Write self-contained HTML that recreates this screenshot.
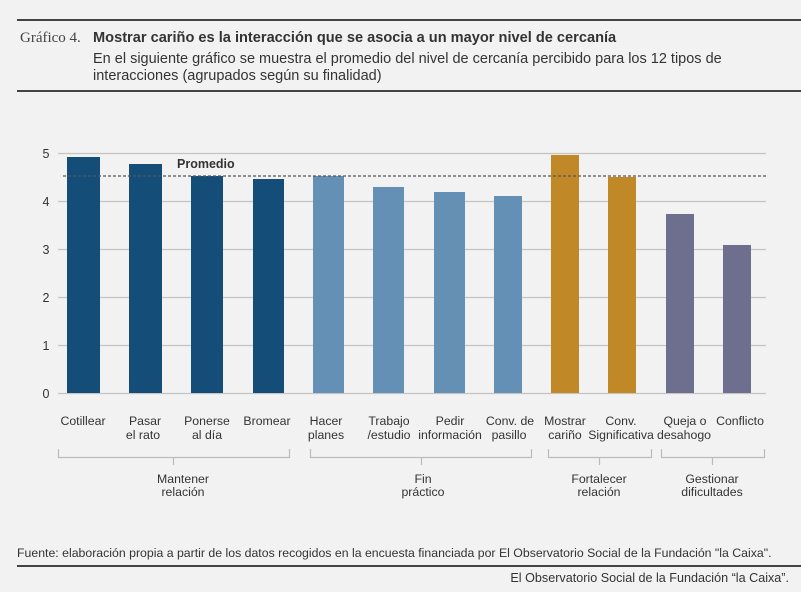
<!DOCTYPE html>
<html><head><meta charset="utf-8"><style>
body{margin:0;background:#f2f2f2;}
svg{display:block;font-family:"Liberation Sans",sans-serif;}
</style></head><body>
<svg width="801" height="592" viewBox="0 0 801 592" xmlns="http://www.w3.org/2000/svg">
<rect width="801" height="592" fill="#f2f2f2"/>
<rect x="17" y="19" width="784" height="2" fill="#444"/>
<text x="20" y="42" font-family="Liberation Serif,serif" font-size="15" fill="#444">Gráfico 4.</text>
<text x="93" y="42" font-size="14.6" font-weight="bold" fill="#333">Mostrar cariño es la interacción que se asocia a un mayor nivel de cercanía</text>
<text x="93" y="63" font-size="14.5" fill="#333">En el siguiente gráfico se muestra el promedio del nivel de cercanía percibido para los 12 tipos de</text>
<text x="93" y="80" font-size="14.5" fill="#333">interacciones (agrupados según su finalidad)</text>
<rect x="17" y="90" width="784" height="2" fill="#444"/>
<g stroke="#c4c4c4" stroke-width="1.2">
<line x1="58" y1="153.5" x2="766" y2="153.5"/><line x1="58" y1="201.5" x2="766" y2="201.5"/>
<line x1="58" y1="249.5" x2="766" y2="249.5"/><line x1="58" y1="297.5" x2="766" y2="297.5"/>
<line x1="58" y1="345.5" x2="766" y2="345.5"/><line x1="58" y1="393.5" x2="766" y2="393.5"/>
</g>
<g font-size="12.5" fill="#333" text-anchor="middle">
<text x="46" y="158">5</text><text x="46" y="206">4</text><text x="46" y="254">3</text>
<text x="46" y="302">2</text><text x="46" y="350">1</text><text x="46" y="398">0</text>
</g>
<g fill="#144e78">
<rect x="67" y="157" width="33" height="236"/><rect x="129" y="164" width="33" height="229"/>
<rect x="191" y="176" width="32" height="217"/><rect x="253" y="179" width="31" height="214"/>
</g>
<g fill="#6490b6">
<rect x="313" y="176" width="31" height="217"/><rect x="373" y="187" width="31" height="206"/>
<rect x="434" y="192" width="31" height="201"/><rect x="494" y="196" width="28" height="197"/>
</g>
<g fill="#c08826"><rect x="551" y="155" width="28" height="238"/><rect x="608" y="177" width="28" height="216"/></g>
<g fill="#6e6e8e"><rect x="666" y="214" width="28" height="179"/><rect x="723" y="245" width="28" height="148"/></g>
<line x1="63" y1="176" x2="768" y2="176" stroke="#555" stroke-width="1.3" stroke-dasharray="3,2"/>
<text x="177" y="168" font-size="12.5" font-weight="bold" fill="#333">Promedio</text>
<g font-size="12.3" fill="#333" text-anchor="middle">
<text x="83" y="425">Cotillear</text>
<text x="145" y="425">Pasar</text><text x="143" y="439">el rato</text>
<text x="207" y="425">Ponerse</text><text x="207" y="439">al día</text>
<text x="267" y="425">Bromear</text>
<text x="326" y="425">Hacer</text><text x="326" y="439">planes</text>
<text x="389" y="425">Trabajo</text><text x="389" y="439">/estudio</text>
<text x="450" y="425">Pedir</text><text x="450" y="439">información</text>
<text x="510" y="425">Conv. de</text><text x="509" y="439">pasillo</text>
<text x="565" y="425">Mostrar</text><text x="565" y="439">cariño</text>
<text x="621" y="425">Conv.</text><text x="621" y="439">Significativa</text>
<text x="685" y="425">Queja o</text><text x="684" y="439">desahogo</text>
<text x="740" y="425">Conflicto</text>
<text x="183" y="483">Mantener</text><text x="183" y="496">relación</text>
<text x="423" y="483">Fin</text><text x="423" y="496">práctico</text>
<text x="599" y="483">Fortalecer</text><text x="599" y="496">relación</text>
<text x="712" y="483">Gestionar</text><text x="712" y="496">dificultades</text>
</g>
<g stroke="#bbb" stroke-width="1.2" fill="none">
<path d="M58.5 449V457.5H289.5V449M173.5 457.5V465"/>
<path d="M310.5 449V457.5H531.5V449M421.5 457.5V465"/>
<path d="M548.5 449V457.5H651.5V449M599.5 457.5V465"/>
<path d="M661.5 449V457.5H764.5V449M712.5 457.5V465"/>
</g>
<text x="17" y="557" font-size="12.3" fill="#333">Fuente: elaboración propia a partir de los datos recogidos en la encuesta financiada por El Observatorio Social de la Fundación "la Caixa".</text>
<rect x="17" y="565" width="784" height="2" fill="#444"/>
<text x="789" y="582" font-size="12.6" fill="#333" text-anchor="end">El Observatorio Social de la Fundación “la Caixa”.</text>
</svg>
</body></html>
